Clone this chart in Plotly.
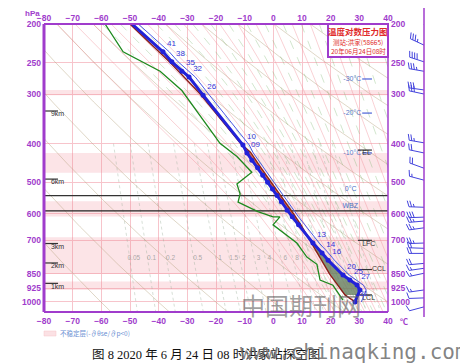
import numpy as np
import plotly.graph_objects as go

# ---------------- data ----------------
temp_p = [200, 235, 249, 263, 272, 302, 403, 422, 440, 460, 480, 500, 520, 540, 560, 588, 611, 640, 711, 753, 785, 856, 881, 907, 933, 1000]
temp_t = [-49.3, -38.5, -35.4, -31.9, -29.4, -24.5, -10.6, -9.2, -7.5, -5.5, -3.7, -2.0, -0.3, 1.3, 2.8, 4.8, 6.6, 8.8, 13.8, 17.0, 19.1, 24.3, 26.7, 29.2, 30.2, 28.5]
temp_lbl = ["48", "41", "38", "35", "32", "26", "10", "09", "", "", "", "", "", "", "", "", "", "", "13", "14", "16", "20", "25", "27", "", "31"]

dew_p = [200, 235, 263, 294, 399, 431, 472, 505, 535, 561, 593, 611, 611, 640, 711, 771, 804, 881, 908, 989]
dew_t = [-58.7, -52.4, -39.5, -31.9, -18.6, -12.7, -7.5, -12.7, -11.6, -12.3, -5.4, -0.1, 2.3, -0.1, 8.2, 11.7, 15.2, 16.3, 20.8, 24.3]

parcel_p = [1000, 960, 850, 707, 640, 600, 560, 500, 460, 420, 400, 300, 250, 200]
parcel_t = [28.5, 25.0, 19.6, 13.3, 9.6, 7.0, 4.0, -0.8, -4.3, -8.0, -11.3, -25.5, -36.0, -50.0]

unstable_top = [293, 422, 558, 688, 889]
unstable_bot = [302, 473, 610, 851, 933]

pressure_ticks = [200, 250, 300, 400, 500, 600, 700, 850, 925, 1000]
temp_ticks = list(range(-80, 41, 10))

freezing_p = 540
wbz_p = 590
iso_names = ["-30°C", "-20°C", "-10°C"]
iso_p = [275, 335, 422]
level_names = ["EL", "LFC", "CCL", "LCL"]
level_p = [415, 700, 829, 960]
km_names = ["9km", "6km", "3km", "2km", "1km"]
km_p = [331, 491, 713, 798, 898]

wind_p = [200, 226, 249, 263, 293, 300, 398, 422, 461, 494, 578, 612, 626, 651, 711, 733, 755, 800, 823, 847, 933, 977, 1029]
wind_dir = [300, 295, 288, 280, 278, 282, 280, 282, 290, 285, 272, 268, 265, 262, 268, 272, 270, 265, 262, 258, 262, 268, 255]
wind_spd = [10, 14, 16, 14, 12, 12, 10, 8, 8, 6, 10, 12, 10, 10, 10, 8, 8, 8, 6, 6, 6, 4, 4]

mix_ratios = [0.05, 0.1, 0.2, 0.5, 1, 1.5, 2, 3, 4, 6, 8, 10, 12, 15, 20, 25, 30, 40]
mix_labels = ["0.05", "0.1", "0.2", "0.5", "1", "1.5", "2", "3", "4", "6", "8"]
dry_thetas = list(range(213, 494, 20))
theta_se = list(range(313, 474, 10))          # pink pseudo-adiabats (K)
theta_se_green = list(range(338, 489, 10))    # green dashed moist lines (K)

# ---------------- geometry ----------------
# the page body adds an 8 px offset; margins compensate so the plot area sits at x 44-430, y 24-312
W, H = 468, 364
OFF = 8
PLOT_W, PLOT_H = 386, 288
ML, MT = 44 - OFF, 24 - OFF
MR, MB = W - ML - PLOT_W, H - MT - PLOT_H
XD = 344 / PLOT_W
P_TOP, P_BOT = 200.0, 1060.0
KPX = PLOT_H / np.log(P_BOT / P_TOP)

PURPLE = "#a03ccc"
GRID = "#f7c4cb"
BLUE = "#2222d8"
TF = dict(family="Liberation Sans, Arial", size=8.5, color=PURPLE, weight="bold")


def px_x(px):
    return (px - 44) / PLOT_W


def px_y(py):
    return (312 - py) / PLOT_H


fig = go.Figure()


def line(x, y, color, width, dash=None, xa="x", ya="y", fill=None, fillcolor=None, mode="lines"):
    fig.add_trace(go.Scatter(x=x, y=y, mode=mode, xaxis=xa, yaxis=ya, fill=fill, fillcolor=fillcolor,
                             line=dict(color=color, width=width, dash=dash), hoverinfo="skip"))


def text(x, y, s, color, size, pos="middle center", family="Liberation Sans, Arial", weight="normal"):
    fig.add_trace(go.Scatter(x=x, y=y, mode="text", text=s, textposition=pos, hoverinfo="skip",
                             textfont=dict(color=color, size=size, family=family, weight=weight)))


# unstable layers
for a, b in zip(unstable_top, unstable_bot):
    line([-80, 40, 40, -80, -80], [a, a, b, b, a], "rgba(0,0,0,0)", 0, fill="toself",
         fillcolor="rgba(240,130,145,0.22)")

pg = np.geomspace(P_TOP, P_BOT, 160)

# dry adiabats
for th in dry_thetas:
    line(th * (pg / 1000.0) ** 0.2857 - 273.15, pg, "rgba(175,155,115,0.5)", 0.8)


# pseudo adiabats (integrated downward from 200 hPa)
def es(tc):
    return 6.112 * np.exp(17.67 * tc / (tc + 243.5))


def lapse(p, T):
    Rd, Cp, Lv, eps = 287.04, 1005.7, 2.501e6, 0.622
    e = es(T - 273.15)
    rs = eps * e / max(p - e, 1e-3)
    return ((Rd * T + Lv * rs) / p) / (Cp + Lv * Lv * rs * eps / (Rd * T * T))


def pseudo(theta):
    ps = np.linspace(P_TOP, P_BOT, 260)
    T = theta * (P_TOP / 1000.0) ** 0.2857
    out = [T]
    for i in range(len(ps) - 1):
        dp = ps[i + 1] - ps[i]
        k1 = lapse(ps[i], T)
        k2 = lapse(ps[i] + dp / 2, T + k1 * dp / 2)
        T = T + k2 * dp
        out.append(T)
        if T > 340:
            break
    return np.array(out) - 273.15, ps[:len(out)]


for th in theta_se:
    tt, pp = pseudo(th)
    line(tt, pp, "rgba(240,140,150,0.5)", 0.8)
for th in theta_se_green:
    tt, pp = pseudo(th)
    line(tt, pp, "rgba(110,175,100,0.45)", 0.7, dash="dash")

# mixing ratio lines
pm = np.geomspace(400, P_BOT, 40)
for w in mix_ratios:
    e = w * pm / (622 + w)
    le = np.log(e / 6.112)
    line(243.5 * le / (17.67 - le), pm, "rgba(150,170,150,0.55)", 0.7, dash="dot")
lab_t = []
for s in mix_labels:
    w = float(s)
    e = w * 775 / (622 + w)
    le = np.log(e / 6.112)
    lab_t.append(243.5 * le / (17.67 - le) + 1.5)
text(lab_t, [775] * len(lab_t), mix_labels, "rgba(150,150,150,0.8)", 6.5)

# freezing level & WBZ
line([-80, 40], [freezing_p, freezing_p], "#333333", 1.3)
line([-80, 40], [wbz_p, wbz_p], "#222222", 1.3)
text([27.0], [freezing_p * np.exp(-6 / KPX)], ["0°C"], "#4a72c8", 7)
text([26.8], [wbz_p * np.exp(-5 / KPX)], ["WBZ"], "#4a72c8", 7)

# km markers
for n, p in zip(km_names, km_p):
    line([-80, -75.1], [p, p], "#333333", 1.2)
    text([-77.6], [p], [n], "#333333", 7, pos="bottom right")

# isotherm heights
for n, p in zip(iso_names, iso_p):
    line([31.0, 34.4], [p, p], "#4a62d8", 1.2)
    text([30.7], [p], [n], "#5a78c8", 7, pos="middle left")

# special levels
lvl_x0 = [29.5, 29.5, 29.5, 28.5]
for n, p, x0 in zip(level_names, level_p, lvl_x0):
    line([x0, 34.4], [p, p], "#333333", 1.2)
for n, p, pos, xx in zip(level_names, level_p, ["bottom center", "bottom right", "middle right", "bottom right"],
                         [32.5, 31.0, 34.4, 31.0]):
    text([xx], [p], [n], "#333333", 7, pos=pos)

# shaded areas between parcel and environment
lt, lp = np.log(temp_p), temp_t
g1 = np.geomspace(707, 960, 30)
env1 = np.interp(np.log(g1), lt, lp)
par1 = np.interp(np.log(g1), np.log(parcel_p[::-1]), parcel_t[::-1])
line(np.concatenate([env1, par1[::-1]]), np.concatenate([g1, g1[::-1]]), "rgba(0,0,0,0)", 0,
     fill="toself", fillcolor="rgba(100,128,95,0.8)")
g2 = np.geomspace(415, 707, 40)
env2 = np.interp(np.log(g2), lt, lp)
par2 = np.interp(np.log(g2), np.log(parcel_p[::-1]), parcel_t[::-1])
line(np.concatenate([env2, par2[::-1]]), np.concatenate([g2, g2[::-1]]), "rgba(0,0,0,0)", 0,
     fill="toself", fillcolor="rgba(225,105,45,0.9)")

# profiles
line(dew_t, dew_p, "#1e8a1e", 1.3)
line([t + 2.2 for t in temp_t], temp_p, "#4b5ae6", 1.0)
line(parcel_t, parcel_p, "#8a1f18", 1.4)
lbl_pos = ["bottom right"] + ["top right"] * (len(temp_lbl) - 1)
fig.add_trace(go.Scatter(x=temp_t, y=temp_p, mode="lines+markers+text", text=temp_lbl,
                         textposition=lbl_pos, hoverinfo="skip", cliponaxis=False,
                         textfont=dict(color="#3434d8", size=8, family="Liberation Sans, Arial"),
                         line=dict(color=BLUE, width=3), marker=dict(color=BLUE, size=5)))

# wind barbs (panel)
BX = 36.0


def barb(p0, d, s):
    L, F, gap = 15.0, 6.0, 2.6
    r = np.deg2rad(d)
    ux, uy = np.sin(r), np.cos(r)
    fx, fy = uy, -ux
    xs, ys = [], []

    def seg(x0, y0, x1, y1):
        xs.extend([x0, x1, None])
        ys.extend([p0 * np.exp(-y0 / KPX), p0 * np.exp(-y1 / KPX), None])

    tx, ty = BX + ux * L, uy * L
    seg(BX, 0, tx, ty)
    nfull, half = int(s // 4), (s % 4) >= 2
    pos = 0.0
    for i in range(nfull):
        sx, sy = tx - ux * pos, ty - uy * pos
        seg(sx, sy, sx + fx * F + ux * 2, sy + fy * F + uy * 2)
        pos += gap
    if half:
        sx, sy = tx - ux * pos, ty - uy * pos
        seg(sx, sy, sx + fx * F / 2 + ux, sy + fy * F / 2 + uy)
    return xs, ys


bxs, bys = [], []
for p, d, s in zip(wind_p, wind_dir, wind_spd):
    a, b = barb(p, d, s)
    bxs += a
    bys += b
line(bxs, bys, "#4444dd", 1.0, xa="x3", ya="y3")

# helper invisible traces for overlay axes
fig.add_trace(go.Scatter(x=[-80, 40], y=[500, 500], xaxis="x2", yaxis="y", mode="markers",
                         marker=dict(opacity=0), hoverinfo="skip"))
fig.add_trace(go.Scatter(x=[-80, 40], y=[500, 500], xaxis="x", yaxis="y2", mode="markers",
                         marker=dict(opacity=0), hoverinfo="skip"))

yr = [np.log10(P_BOT), np.log10(P_TOP)]
fig.update_layout(
    width=W, height=H, margin=dict(l=ML, r=MR, t=MT, b=MB, autoexpand=False),
    paper_bgcolor="white", plot_bgcolor="white", showlegend=False,
    xaxis=dict(domain=[0, XD], range=[-80, 40], tickvals=temp_ticks, showgrid=True, gridcolor=GRID,
               gridwidth=1, zeroline=False, showline=False, ticks="", tickfont=TF, anchor="y",
               ticklabelstandoff=2, automargin=False),
    xaxis2=dict(domain=[0, XD], overlaying="x", side="top", range=[-80, 40], tickvals=temp_ticks,
                showgrid=False, zeroline=False, ticks="", tickfont=TF, anchor="y", ticklabelstandoff=0,
                automargin=False),
    xaxis3=dict(domain=[XD, 1], range=[0, 42], visible=False, anchor="y3", automargin=False),
    yaxis=dict(type="log", range=yr, tickvals=pressure_ticks, ticktext=[str(v) for v in pressure_ticks],
               showgrid=True, gridcolor=GRID, zeroline=False, ticks="", tickfont=TF, anchor="x",
               ticklabelstandoff=2, automargin=False),
    yaxis2=dict(type="log", range=yr, overlaying="y", side="right", anchor="free", position=XD,
                tickvals=pressure_ticks, ticktext=[str(v) for v in pressure_ticks], showgrid=False,
                zeroline=False, ticks="", tickfont=TF, ticklabelstandoff=2, automargin=False),
    yaxis3=dict(type="log", range=yr, domain=[0, 1], anchor="x3", visible=False, automargin=False),
)

# frame
shapes = [
    dict(type="line", xref="paper", yref="paper", x0=0, x1=0, y0=0, y1=1, line=dict(color=PURPLE, width=3)),
    dict(type="line", xref="paper", yref="paper", x0=0, x1=XD, y0=1, y1=1, line=dict(color=PURPLE, width=2)),
    dict(type="line", xref="paper", yref="paper", x0=0, x1=XD, y0=0, y1=0, line=dict(color=PURPLE, width=2)),
    dict(type="line", xref="paper", yref="paper", x0=XD, x1=XD, y0=0, y1=1, line=dict(color=PURPLE, width=1.5)),
    dict(type="line", xref="paper", yref="paper", x0=px_x(424), x1=px_x(424), y0=px_y(317), y1=px_y(0),
         line=dict(color=PURPLE, width=1.5)),
    dict(type="rect", xref="paper", yref="paper", x0=px_x(328), x1=XD, y0=px_y(57), y1=1,
         line=dict(color=PURPLE, width=2), fillcolor="white"),
    dict(type="rect", xref="paper", yref="paper", x0=px_x(44), x1=px_x(56), y0=px_y(336), y1=px_y(331),
         line=dict(color="#f4c4c8", width=0.5), fillcolor="#fbe1e4"),
]
fig.update_layout(shapes=shapes)

ann = [
    dict(x=px_x(358), y=px_y(31), text="<b>温度对数压力图</b>", font=dict(color="#e02a2a", size=8.5, family="Noto Sans CJK SC")),
    dict(x=px_x(358), y=px_y(42), text="测站:洪家(58665)", font=dict(color="#e02a2a", size=6.5, family="Noto Sans CJK SC")),
    dict(x=px_x(358), y=px_y(51), text="20年06月24日08时", font=dict(color="#e02a2a", size=6.5, family="Noto Sans CJK SC")),
    dict(x=px_x(32), y=px_y(13), text="<b>hPa</b>", font=dict(color=PURPLE, size=8, family="Liberation Sans")),
    dict(x=px_x(404), y=px_y(321), text="<b>℃</b>", font=dict(color=PURPLE, size=8, family="Noto Sans CJK SC")),
    dict(x=px_x(58), y=px_y(333), text="不稳定层(-∂θse/∂p<0)", xanchor="left",
         font=dict(color="#6a8ed2", size=6.5, family="Noto Sans CJK SC")),
    dict(x=px_x(90), y=px_y(354), text="图 8 2020 年 6 月 24 日 08 时洪家站探空图", xanchor="left",
         font=dict(color="#111111", size=12.5, family="Liberation Serif, Noto Sans CJK SC")),
    dict(x=px_x(301), y=px_y(304), text="中国期刊网",
         font=dict(color="rgba(95,95,95,0.6)", size=24, family="Noto Sans CJK SC")),
    dict(x=px_x(470), y=px_y(352), text="www.chinaqking.com", xanchor="right",
         font=dict(color="rgba(110,110,110,0.85)", size=21, family="DejaVu Sans Mono")),
]
for a in ann:
    a.update(xref="paper", yref="paper", showarrow=False)
    a.setdefault("xanchor", "center")
    a.setdefault("yanchor", "middle")
fig.update_layout(annotations=ann)

fig.write_html("out.html")
